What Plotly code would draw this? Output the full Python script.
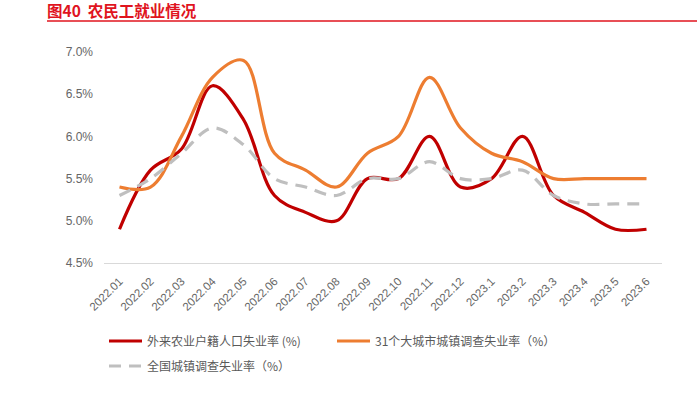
import plotly.graph_objects as go

categories = ["2022.01", "2022.02", "2022.03", "2022.04", "2022.05", "2022.06",
              "2022.07", "2022.08", "2022.09", "2022.10", "2022.11", "2022.12",
              "2023.1", "2023.2", "2023.3", "2023.4", "2023.5", "2023.6"]
migrant = [4.9, 5.6, 5.85, 6.6, 6.2, 5.3, 5.1, 5.0, 5.5, 5.5, 6.0, 5.4,
           5.5, 6.0, 5.3, 5.1, 4.9, 4.9]
city31 = [5.4, 5.4, 6.0, 6.7, 6.9, 5.8, 5.6, 5.4, 5.8, 6.0, 6.7, 6.1,
          5.8, 5.7, 5.5, 5.5, 5.5, 5.5]
national = [5.3, 5.5, 5.8, 6.1, 5.9, 5.5, 5.4, 5.3, 5.5, 5.5, 5.7, 5.5,
            5.5, 5.6, 5.3, 5.2, 5.2, 5.2]
names = ["外来农业户籍人口失业率 (%)", "31个大城市城镇调查失业率（%）", "全国城镇调查失业率（%）"]
tick_vals = [4.5, 5.0, 5.5, 6.0, 6.5, 7.0]
tick_text = ["4.5%", "5.0%", "5.5%", "6.0%", "6.5%", "7.0%"]

W, H = 697, 395
L, R, T, B = 104, 35, 52, 132
pw, ph = W - L - R, H - T - B
def px_x(p): return (p - L) / pw
def px_y(p): return (H - B - p) / ph

fig = go.Figure()
fig.add_trace(go.Scatter(x=categories, y=migrant, name=names[0], mode="lines", legend="legend",
                         line=dict(color="#c00000", width=3.2, shape="spline", smoothing=1.0)))
fig.add_trace(go.Scatter(x=categories, y=city31, name=names[1], mode="lines", legend="legend",
                         line=dict(color="#ed7d31", width=3.2, shape="spline", smoothing=1.0)))
fig.add_trace(go.Scatter(x=categories, y=national, name=names[2], mode="lines", legend="legend2",
                         line=dict(color="#bfbfbf", width=3.2, shape="spline", smoothing=1.0, dash="12px,8px")))

font_family = "Liberation Sans, Noto Sans CJK SC, Arial, sans-serif"
leg_font = dict(size=12, color="#595959", family="Noto Sans CJK SC, sans-serif")
fig.update_layout(
    width=W, height=H,
    margin=dict(l=L, r=R, t=T, b=B),
    paper_bgcolor="white", plot_bgcolor="white",
    font=dict(family=font_family, size=12, color="#595959"),
    showlegend=True,
    legend=dict(orientation="h", x=px_x(104), y=px_y(341), xanchor="left", yanchor="middle",
                entrywidth=180, entrywidthmode="pixels", font=leg_font,
                itemwidth=33, bgcolor="rgba(0,0,0,0)"),
    legend2=dict(orientation="h", x=px_x(104), y=px_y(366), xanchor="left", yanchor="middle",
                 font=leg_font, itemwidth=33, bgcolor="rgba(0,0,0,0)"),
    xaxis=dict(type="category", range=[-0.5, 17.5], showgrid=False, zeroline=False,
               showline=True, linecolor="#d9d9d9", linewidth=1, ticks="",
               tickangle=-45, ticklabelstandoff=6, tickfont=dict(size=11.5, color="#666666")),
    yaxis=dict(range=[4.5, 7.0], tickvals=tick_vals, ticktext=tick_text, showgrid=False,
               zeroline=False, showline=False, ticks="", ticklabelstandoff=10,
               tickfont=dict(size=12, color="#666666")),
)
fig.add_annotation(xref="paper", yref="paper", x=px_x(45), y=px_y(9.5), xanchor="left", yanchor="middle",
                   text="<b>图40  农民工就业情况</b>", showarrow=False,
                   font=dict(size=15.5, color="#e0141e", family="Noto Sans CJK SC, sans-serif"))
fig.add_shape(type="line", xref="paper", yref="paper", x0=px_x(47), x1=px_x(697),
              y0=px_y(21), y1=px_y(21), line=dict(color="#e0141e", width=1.5))

fig.write_html("out.html", config={"displayModeBar": False},
               post_script="document.body.style.margin='0px';document.body.style.overflow='hidden';")
